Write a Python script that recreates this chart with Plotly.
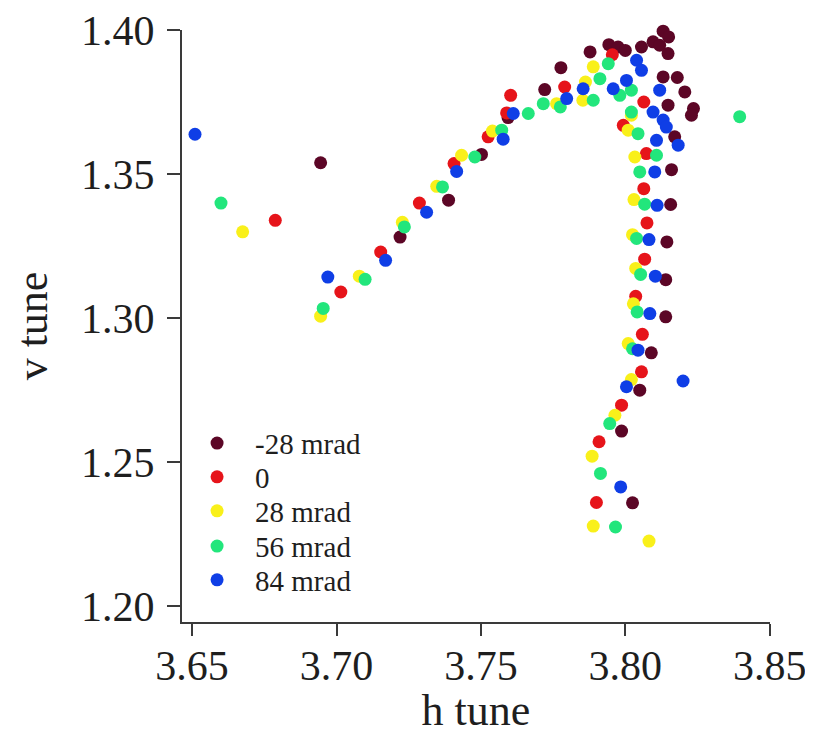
import plotly.graph_objects as go

# ---- data ----
series_names = ["-28 mrad", "0", "28 mrad", "56 mrad", "84 mrad"]
series_colors = ["#5c0626", "#e6141a", "#f9f01a", "#22e67c", "#0f3ee6"]

m28_h = [3.6945, 3.7220, 3.7388, 3.7502, 3.7594, 3.7721, 3.7777, 3.7878, 3.7943, 3.7975,
         3.8000, 3.8056, 3.8096, 3.8131, 3.8150, 3.8119, 3.8148, 3.8131, 3.8180, 3.8206,
         3.8236, 3.8229, 3.8148, 3.8171, 3.8160, 3.8157, 3.8144, 3.8140, 3.8140, 3.8090,
         3.8050, 3.7987, 3.8025]
m28_v = [1.3540, 1.3282, 1.3410, 1.3569, 1.3697, 1.3794, 1.3870, 1.3925, 1.3950, 1.3942,
         1.3930, 1.3942, 1.3960, 1.3997, 1.3977, 1.3948, 1.3919, 1.3838, 1.3836, 1.3786,
         1.3728, 1.3705, 1.3740, 1.3630, 1.3516, 1.3395, 1.3265, 1.3134, 1.3005, 1.2880,
         1.2750, 1.2608, 1.2359]

z0_h = [3.6788, 3.7015, 3.7153, 3.7287, 3.7407, 3.7525, 3.7589, 3.7603, 3.7790, 3.7955,
        3.8064, 3.7993, 3.8073, 3.8064, 3.8075, 3.8067, 3.8036, 3.8059, 3.8056, 3.7987,
        3.7909, 3.7900]
z0_v = [1.3340, 1.3091, 1.3230, 1.3400, 1.3537, 1.3630, 1.3713, 1.3774, 1.3803, 1.3915,
        1.3751, 1.3670, 1.3572, 1.3450, 1.3331, 1.3205, 1.3076, 1.2944, 1.2814, 1.2698,
        1.2571, 1.2360]

p28_h = [3.6675, 3.6945, 3.7079, 3.7228, 3.7347, 3.7433, 3.7540, 3.7762, 3.7853, 3.7889,
         3.7862, 3.8021, 3.8010, 3.8033, 3.8030, 3.8025, 3.8036, 3.8028, 3.8010, 3.8021,
         3.7964, 3.7885, 3.7889, 3.8082]
p28_v = [1.3300, 1.3007, 1.3146, 1.3333, 1.3458, 1.3566, 1.3650, 1.3745, 1.3757, 1.3873,
         1.3820, 1.3705, 1.3653, 1.3560, 1.3412, 1.3290, 1.3173, 1.3050, 1.2912, 1.2787,
         1.2663, 1.2521, 1.2278, 1.2226]

p56_h = [3.6600, 3.6954, 3.7099, 3.7235, 3.7367, 3.7479, 3.7572, 3.7664, 3.7716, 3.7775,
         3.7889, 3.7912, 3.7941, 3.7981, 3.8021, 3.8021, 3.8044, 3.8108, 3.8050, 3.8067,
         3.8039, 3.8053, 3.8041, 3.8025, 3.7946, 3.7914, 3.7966, 3.8396]
p56_v = [1.3400, 1.3034, 1.3135, 1.3317, 1.3456, 1.3560, 1.3653, 1.3711, 1.3745, 1.3734,
         1.3757, 1.3832, 1.3884, 1.3774, 1.3792, 1.3716, 1.3641, 1.3566, 1.3508, 1.3396,
         1.3277, 1.3152, 1.3022, 1.2894, 1.2634, 1.2461, 1.2275, 1.3700]

p84_h = [3.6510, 3.6970, 3.7170, 3.7312, 3.7416, 3.7577, 3.7612, 3.7797, 3.7854, 3.7958,
         3.8004, 3.8039, 3.8056, 3.8119, 3.8096, 3.8131, 3.8142, 3.8108, 3.8183, 3.8102,
         3.8110, 3.8082, 3.8104, 3.8085, 3.8044, 3.8004, 3.8200, 3.7984]
p84_v = [1.3639, 1.3143, 1.3201, 1.3368, 1.3510, 1.3622, 1.3711, 1.3763, 1.3797, 1.3797,
         1.3826, 1.3896, 1.3861, 1.3792, 1.3716, 1.3688, 1.3664, 1.3618, 1.3601, 1.3508,
         1.3392, 1.3273, 1.3146, 1.3016, 1.2889, 1.2762, 1.2782, 1.2414]

x_ticks = [3.65, 3.70, 3.75, 3.80, 3.85]
y_ticks = [1.20, 1.25, 1.30, 1.35, 1.40]

series = [(m28_h, m28_v), (z0_h, z0_v), (p28_h, p28_v), (p56_h, p56_v), (p84_h, p84_v)]

FONT = "Liberation Serif"
TXT = "#1e1e1e"

fig = go.Figure()
legend_ids = ["legend", "legend2", "legend3", "legend4", "legend5"]
for (hx, vy), name, col, lid in zip(series, series_names, series_colors, legend_ids):
    fig.add_trace(go.Scatter(
        x=hx, y=vy, mode="markers", name=name, legend=lid,
        marker=dict(color=col, size=13, line=dict(width=0)),
        cliponaxis=False,
    ))

axis_common = dict(
    showline=True, linecolor="#3a3a3a", linewidth=2,
    ticks="outside", tickcolor="#3a3a3a", tickwidth=2,
    showgrid=False, zeroline=False, automargin=False,
    ticklabeloverflow="allow",
    tickfont=dict(family=FONT, size=42, color=TXT),
)

# one legend box per entry, rows placed as in the reference
legend_rows_y = [0.302, 0.245, 0.1875, 0.128, 0.071]
legend_layout = {}
for lid, ly in zip(legend_ids, legend_rows_y):
    legend_layout[lid] = dict(
        x=-0.005, y=ly, xanchor="left", yanchor="middle",
        font=dict(family=FONT, size=29, color=TXT),
        bgcolor="rgba(0,0,0,0)", itemwidth=66,
    )

fig.update_layout(
    width=805, height=727,
    margin=dict(l=174, r=43, t=22, b=113, autoexpand=False),
    paper_bgcolor="white", plot_bgcolor="white",
    font=dict(family=FONT, color=TXT),
    xaxis=dict(range=[3.6465, 3.8501], tickvals=x_ticks, tickformat=".2f", ticklen=12,
               ticklabelstandoff=-6,
               title=dict(text="h tune", font=dict(family=FONT, size=44, color=TXT), standoff=6),
               **axis_common),
    yaxis=dict(range=[1.1945, 1.4001], tickvals=y_ticks, tickformat=".2f", ticklen=13,
               ticklabelstandoff=4,
               title=dict(text="v tune", font=dict(family=FONT, size=44, color=TXT), standoff=20),
               **axis_common),
    showlegend=True,
    **legend_layout,
)

fig.write_html("out.html")
